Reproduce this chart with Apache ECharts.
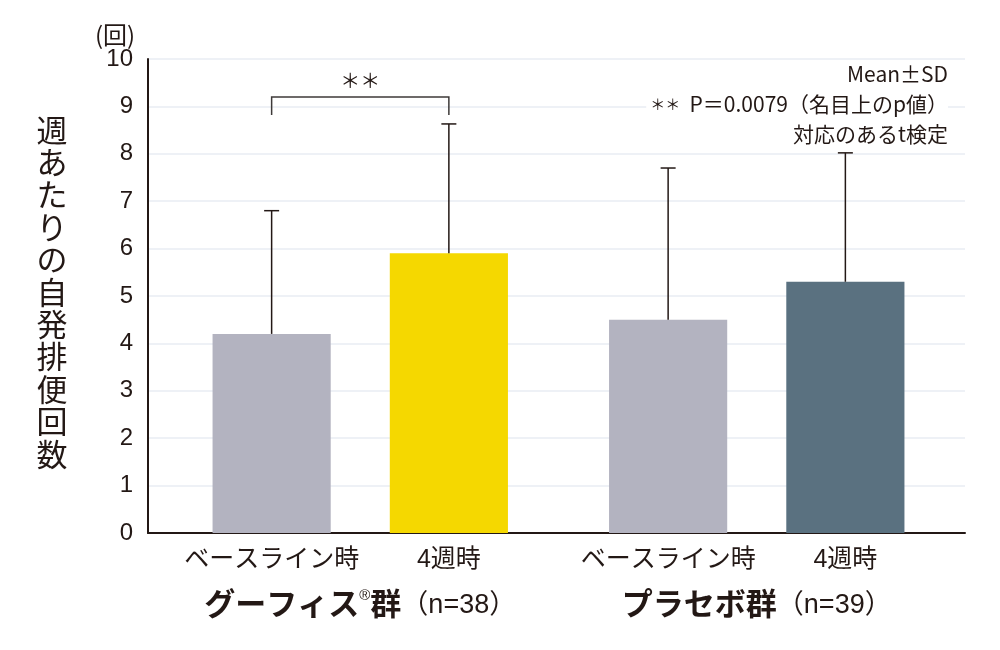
<!DOCTYPE html>
<html>
<head>
<meta charset="utf-8">
<script src="https://cdn.jsdelivr.net/npm/echarts@6/dist/echarts.min.js"></script>
<style>
html,body{margin:0;padding:0;background:#fff;}
#chart{width:1000px;height:650px;}
</style>
</head>
<body>
<div id="chart"></div>
<script>
// ---- data ----
const groupNames = ['グーフィス®群', 'プラセボ群'];
const groupN = ['（n=38）', '（n=39）'];
const timepoints = ['ベースライン時', '4週時'];
const baselineMean = [4.2, 4.5];
const week4Mean = [5.9, 5.3];
const baselineSD = [2.6, 3.2];
const week4SD = [2.73, 2.72];
const yTicks = [0, 10, 1]; // min, max, interval
const yUnit = '(回)';
const yTitle = '週あたりの自発排便回数';
const sigLevel = [9.2];          // bracket height (value units) for group 0
const sigLabel = '＊＊';
const noteLines = ['Mean±SD', '{s|＊＊}  P＝0.0079（名目上のp値）', '対応のあるt検定'];

const INK = '#231815';
const FONT = '"Liberation Sans", "Noto Sans CJK JP", sans-serif';
const FONT_JP = '"Noto Sans CJK JP", "Liberation Sans", sans-serif';
const BAR_FRAC = 0.298;
const barColorsBase = '#b3b3c0';
const barColorsW4 = ['#f5d800', '#5a7180'];

const chart = echarts.init(document.getElementById('chart'));

const errData = [];
for (let g = 0; g < groupNames.length; g++) {
  errData.push([g, baselineMean[g], baselineMean[g] + baselineSD[g], 0]);
  errData.push([g, week4Mean[g], week4Mean[g] + week4SD[g], 1]);
}

function barX(api, cat, s) {
  const c = api.coord([cat, 0]);
  const band = api.size([1, 0])[0];
  const bw = band * BAR_FRAC;
  return c[0] + (s === 0 ? -1 : 1) * bw * 0.75;
}

const option = {
  animation: false,
  textStyle: { fontFamily: FONT },
  grid: [
    { left: 148, right: 35, top: 59, bottom: 117 },
    { left: 162, right: 45, top: 59, bottom: 117 }
  ],
  xAxis: [
    {
      gridIndex: 0, type: 'category', data: [''],
      axisLine: { lineStyle: { color: INK, width: 2 } },
      axisTick: { show: false }, axisLabel: { show: false }
    },
    {
      gridIndex: 1, type: 'category', data: groupNames,
      axisLine: { show: false }, axisTick: { show: false },
      axisLabel: {
        margin: 55,
        formatter: function (v, i) {
          return '{b|' + v.replace('®', '}{sup|®}{b|') + '}{n|' + groupN[i] + '}';
        },
        rich: {
          b: { fontSize: 31, fontWeight: 'bold', color: INK, fontFamily: FONT, lineHeight: 36 },
          sup: { fontSize: 15, color: INK, fontFamily: FONT, verticalAlign: 'top', lineHeight: 36 },
          n: { fontSize: 27, color: INK, fontFamily: FONT, lineHeight: 36 }
        }
      }
    }
  ],
  yAxis: [
    {
      gridIndex: 0, type: 'value', min: yTicks[0], max: yTicks[1], interval: yTicks[2],
      axisLine: { show: true, lineStyle: { color: INK, width: 2 } },
      axisTick: { show: false },
      axisLabel: { fontSize: 24, color: INK, margin: 15, fontFamily: FONT, padding: [5, 0, 0, 0] },
      splitLine: { lineStyle: { color: '#e8edf3', width: 1.5 } }
    },
    {
      gridIndex: 1, type: 'value', min: yTicks[0], max: yTicks[1], interval: yTicks[2],
      show: false, splitLine: { show: false }
    }
  ],
  series: [
    {
      type: 'bar', name: timepoints[0], xAxisIndex: 1, yAxisIndex: 1,
      data: baselineMean, barWidth: (BAR_FRAC * 100) + '%', barGap: '50%',
      itemStyle: { color: barColorsBase },
      label: {
        show: true, position: 'bottom', distance: 15,
        formatter: timepoints[0], fontSize: 25, color: INK, fontFamily: FONT
      }
    },
    {
      type: 'bar', name: timepoints[1], xAxisIndex: 1, yAxisIndex: 1,
      data: week4Mean.map((v, i) => ({ value: v, itemStyle: { color: barColorsW4[i] } })),
      barWidth: (BAR_FRAC * 100) + '%', barGap: '50%',
      label: {
        show: true, position: 'bottom', distance: 15,
        formatter: timepoints[1], fontSize: 25, color: INK, fontFamily: FONT
      }
    },
    {
      type: 'custom', xAxisIndex: 1, yAxisIndex: 1, z: 5,
      data: errData,
      renderItem: function (params, api) {
        const cat = api.value(0), s = api.value(3);
        const x = barX(api, cat, s);
        const y0 = api.coord([cat, api.value(1)])[1];
        const y1 = api.coord([cat, api.value(2)])[1];
        const st = { stroke: INK, lineWidth: 1.5 };
        return {
          type: 'group', children: [
            { type: 'line', shape: { x1: x, y1: y0, x2: x, y2: y1 }, style: st },
            { type: 'line', shape: { x1: x - 7.5, y1: y1, x2: x + 7.5, y2: y1 }, style: st }
          ]
        };
      }
    },
    {
      type: 'custom', xAxisIndex: 1, yAxisIndex: 1, z: 5,
      data: sigLevel.map((v, i) => [i, v]),
      renderItem: function (params, api) {
        const cat = api.value(0);
        const xa = barX(api, cat, 0), xb = barX(api, cat, 1);
        const yt = api.coord([cat, api.value(1)])[1];
        const drop = 18;
        const st = { stroke: '#3e3a39', lineWidth: 1.5, fill: null };
        return {
          type: 'group', children: [
            { type: 'polyline', shape: { points: [[xa, yt + drop], [xa, yt], [xb, yt], [xb, yt + drop]] }, style: st },
            { type: 'text', style: { text: sigLabel, x: (xa + xb) / 2, y: yt - 4, align: 'center', verticalAlign: 'bottom', fontSize: 20, fill: INK, fontFamily: FONT } }
          ]
        };
      }
    }
  ],
  graphic: [
    { type: 'text', left: 95, top: 23, style: { text: yUnit, fontSize: 24, fill: INK, fontFamily: FONT_JP } },
    { type: 'text', x: 52, y: 295, style: { text: yTitle.split('').join('\n'), fontSize: 31, lineHeight: 32.4, align: 'center', verticalAlign: 'middle', fill: INK, fontFamily: FONT } },
    ...noteLines.map((t, i) => ({
      type: 'text', x: 948, y: 74 + i * 30, z: 10,
      style: {
        text: t, fontSize: 21, align: 'right', verticalAlign: 'middle', fill: INK, fontFamily: FONT_JP,
        backgroundColor: '#fff', padding: [0, 0, 0, 4],
        rich: { s: { fontSize: 15, fill: INK, fontFamily: FONT_JP } }
      }
    }))
  ]
};
chart.setOption(option);
</script>
</body>
</html>
